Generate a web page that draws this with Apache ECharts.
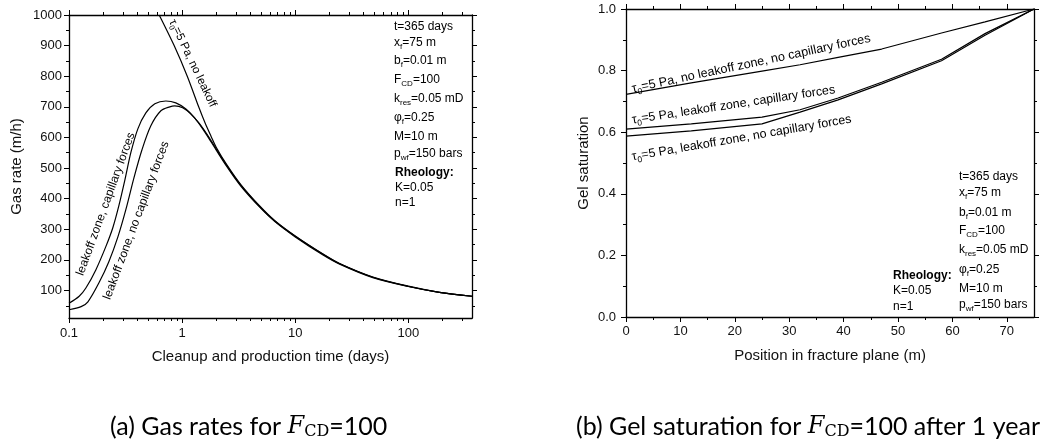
<!DOCTYPE html>
<html>
<head>
<meta charset="utf-8">
<title>Gas rates and gel saturation</title>
<script src="https://cdn.jsdelivr.net/npm/echarts@6.0.0/dist/echarts.min.js"></script>
<style>
  html, body { margin: 0; padding: 0; background: #fff; }
  #chart { width: 1047px; height: 442px; }
</style>
</head>
<body>
<div id="chart"></div>
<script>
// (a) gas rate (m/h) vs cleanup and production time (days), log x
var timeNoLeakoff = [0.627, 0.85, 1.11, 1.4, 1.6, 1.8, 2.0, 2.47, 3.3, 4.85, 6.6, 10, 17.6, 24.7, 48.5, 100, 188, 365];
var rateNoLeakoff = [1000, 900, 800, 700, 646, 604, 568, 512, 446, 376, 328, 278, 219, 188, 144, 114, 94, 81];

var timeCapillary = [0.1, 0.123, 0.141, 0.173, 0.212, 0.244, 0.276, 0.312, 0.352, 0.406, 0.478, 0.574, 0.718, 0.879, 1.08, 1.29, 1.52, 1.8, 2.47, 3.3, 4.85, 6.6, 10, 17.6, 24.7, 48.5, 100, 188, 365];
var rateCapillary = [58, 81, 108, 168, 244, 305, 377, 461, 550, 628, 680, 710, 719, 713, 693, 664, 628, 586, 506, 441, 372, 325, 275, 216, 186, 142, 113, 94, 81];

var timeNoCapillary = [0.1, 0.128, 0.147, 0.184, 0.225, 0.271, 0.318, 0.375, 0.441, 0.529, 0.649, 0.778, 0.86, 1.01, 1.19, 1.4, 1.62, 1.8, 2.47, 3.3, 4.85, 6.6, 10, 17.6, 24.7, 48.5, 100, 188, 365];
var rateNoCapillary = [37, 47, 63, 125, 194, 276, 364, 468, 559, 638, 687, 700, 703, 697, 677, 648, 616, 590, 509, 444, 374, 327, 277, 218, 187, 143, 113, 94, 81];

var timeTicks = [0.1, 1, 10, 100];
var timeMinorTicks = [0.2, 0.3, 0.4, 0.5, 0.6, 0.7, 0.8, 0.9, 2, 3, 4, 5, 6, 7, 8, 9, 20, 30, 40, 50, 60, 70, 80, 90, 200, 300];
var rateTicks = [100, 200, 300, 400, 500, 600, 700, 800, 900, 1000];
var rateMinorTicks = [50, 150, 250, 350, 450, 550, 650, 750, 850, 950];

// (b) gel saturation along the fracture after 365 days
var position = [0, 12, 25, 32, 39, 47, 58, 66, 75];
var satNoLeakoff = [0.723, 0.76, 0.798, 0.819, 0.843, 0.87, 0.922, 0.958, 1.0];
var satCapillary = [0.61, 0.627, 0.649, 0.673, 0.711, 0.762, 0.837, 0.92, 1.0];
var satNoCapillary = [0.587, 0.604, 0.627, 0.665, 0.705, 0.757, 0.832, 0.915, 1.0];

var posTicks = [0, 10, 20, 30, 40, 50, 60, 70];
var posMinorTicks = [5, 15, 25, 35, 45, 55, 65];
var satTicks = [0, 0.2, 0.4, 0.6, 0.8, 1.0];
var satMinorTicks = [0.1, 0.3, 0.5, 0.7, 0.9];

var paramLines = [
  't=365 days',
  '{n|x}{s|f}{n|=75 m}',
  '{n|b}{s|f}{n|=0.01 m}',
  '{n|F}{s|CD}{n|=100}',
  '{n|k}{s|res}{n|=0.05 mD}',
  '{n|φ}{s|f}{n|=0.25}',
  'M=10 m',
  '{n|p}{s|wf}{n|=150 bars}'
];
var rheologyLines = ['{b|Rheology:}', 'K=0.05', 'n=1'];

var FONT = 'Liberation Sans, Arial, sans-serif';
var rich = {
  n: { fontSize: 12, lineHeight: 14, fontFamily: FONT },
  s: { fontSize: 8, lineHeight: 8, padding: [8, 0, 0, 0], fontFamily: FONT },
  b: { fontSize: 12, fontWeight: 'bold', fontFamily: FONT }
};

function pairs(xs, ys) {
  return xs.map(function (x, i) { return [x, ys[i]]; });
}

function axisBase(extra) {
  var a = {
    axisLine: { show: true, onZero: false, lineStyle: { color: '#000', width: 1.3 } },
    axisTick: { show: true, inside: false, length: 5, lineStyle: { color: '#000', width: 1 } },
    axisLabel: { show: false },
    splitLine: { show: false }
  };
  return echarts.util.merge(a, extra, true);
}

var labelStyle = { show: true, color: '#111', fontSize: 13, fontFamily: FONT };
var nameStyle = { fontSize: 15, color: '#111', fontFamily: FONT };
function plain(v) { return String(v); }

var xAxes = [
  // left chart, log time axis
  axisBase({ type: 'log', logBase: 10, gridIndex: 0, position: 'bottom', min: 0.1, max: 365,
    axisTick: { customValues: timeTicks },
    axisLabel: Object.assign({}, labelStyle, { margin: 9, customValues: timeTicks, formatter: plain }),
    name: 'Cleanup and production time (days)', nameLocation: 'middle', nameGap: 31, nameTextStyle: nameStyle }),
  axisBase({ type: 'log', logBase: 10, gridIndex: 0, position: 'bottom', min: 0.1, max: 365,
    axisLine: { show: false }, axisTick: { length: 3, customValues: timeMinorTicks } }),
  axisBase({ type: 'log', logBase: 10, gridIndex: 0, position: 'top', min: 0.1, max: 365,
    axisTick: { customValues: timeTicks } }),
  axisBase({ type: 'log', logBase: 10, gridIndex: 0, position: 'top', min: 0.1, max: 365,
    axisLine: { show: false }, axisTick: { length: 3, customValues: timeMinorTicks } }),
  // right chart, position axis
  axisBase({ type: 'value', gridIndex: 1, position: 'bottom', min: 0, max: 75,
    axisTick: { customValues: posTicks },
    axisLabel: Object.assign({}, labelStyle, { margin: 8, customValues: posTicks, formatter: plain }),
    name: 'Position in fracture plane (m)', nameLocation: 'middle', nameGap: 31, nameTextStyle: nameStyle }),
  axisBase({ type: 'value', gridIndex: 1, position: 'bottom', min: 0, max: 75,
    axisLine: { show: false }, axisTick: { length: 3, customValues: posMinorTicks } }),
  axisBase({ type: 'value', gridIndex: 1, position: 'top', min: 0, max: 75,
    axisTick: { customValues: posTicks } }),
  axisBase({ type: 'value', gridIndex: 1, position: 'top', min: 0, max: 75,
    axisLine: { show: false }, axisTick: { length: 3, customValues: posMinorTicks } })
];

var yAxes = [
  axisBase({ type: 'value', gridIndex: 0, position: 'left', min: 10, max: 1000,
    axisTick: { customValues: rateTicks },
    axisLabel: Object.assign({}, labelStyle, { margin: 7, customValues: rateTicks, formatter: plain }),
    name: 'Gas rate (m/h)', nameLocation: 'middle', nameGap: 45, nameTextStyle: nameStyle }),
  axisBase({ type: 'value', gridIndex: 0, position: 'left', min: 10, max: 1000,
    axisLine: { show: false }, axisTick: { length: 3, customValues: rateMinorTicks } }),
  axisBase({ type: 'value', gridIndex: 0, position: 'right', min: 10, max: 1000,
    axisTick: { customValues: rateTicks } }),
  axisBase({ type: 'value', gridIndex: 0, position: 'right', min: 10, max: 1000,
    axisLine: { show: false }, axisTick: { length: 3, customValues: rateMinorTicks } }),
  axisBase({ type: 'value', gridIndex: 1, position: 'left', min: 0, max: 1,
    axisTick: { customValues: satTicks },
    axisLabel: Object.assign({}, labelStyle, { margin: 10, customValues: satTicks, formatter: function (v) { return v.toFixed(1); } }),
    name: 'Gel saturation', nameLocation: 'middle', nameGap: 35, nameTextStyle: nameStyle }),
  axisBase({ type: 'value', gridIndex: 1, position: 'left', min: 0, max: 1,
    axisLine: { show: false }, axisTick: { length: 3, customValues: satMinorTicks } }),
  axisBase({ type: 'value', gridIndex: 1, position: 'right', min: 0, max: 1,
    axisTick: { customValues: satTicks } }),
  axisBase({ type: 'value', gridIndex: 1, position: 'right', min: 0, max: 1,
    axisLine: { show: false }, axisTick: { length: 3, customValues: satMinorTicks } })
];

function curve(data, xi, yi, smooth) {
  return {
    type: 'line', xAxisIndex: xi, yAxisIndex: yi, data: data,
    showSymbol: false, symbol: 'none', smooth: smooth,
    lineStyle: { color: '#000', width: 1.2 }, silent: true, clip: true
  };
}

function txt(x, y, text, opt) {
  var o = opt || {};
  return {
    type: 'text', x: x, y: y, rotation: (o.rot || 0) * Math.PI / 180, silent: true,
    style: {
      text: text, rich: o.rich || rich, fill: '#000', fontFamily: FONT, fontSize: o.size || 12,
      align: 'left', verticalAlign: 'middle'
    }
  };
}

var graphics = [];
var leftY = [27, 43, 61, 80, 99, 118, 137, 154];
var rightY = [177, 193, 213, 231, 250, 270, 289, 305];
paramLines.forEach(function (t, i) {
  graphics.push(txt(394, leftY[i], t));
  graphics.push(txt(959, rightY[i], t));
});
var leftRheoY = [173, 188, 203];
var rightRheoY = [276, 291, 307];
rheologyLines.forEach(function (t, i) {
  graphics.push(txt(395, leftRheoY[i], t));
  graphics.push(txt(893, rightRheoY[i], t));
});

// curve labels
function labelRich(size) {
  return {
    l: { fontSize: size, lineHeight: size + 2, fontFamily: FONT },
    ls: { fontSize: size - 4, lineHeight: size - 4, padding: [size - 4, 0, 0, 0], fontFamily: FONT }
  };
}
var tau = '{l|τ}{ls|0}{l|=5 Pa, ';
graphics.push(txt(172, 20, tau + 'no leakoff}', { rot: -64.5, size: 11.6, rich: labelRich(11.6) }));
graphics.push(txt(80, 275, '{l|leakoff zone, capillary forces}', { rot: 70, size: 12, rich: labelRich(12) }));
graphics.push(txt(107, 299, '{l|leakoff zone, no capillary forces}', { rot: 69.5, size: 12, rich: labelRich(12) }));
graphics.push(txt(632, 89, tau + 'no leakoff zone, no capillary forces}', { rot: 12, size: 12.6, rich: labelRich(12.6) }));
graphics.push(txt(632, 120, tau + 'leakoff zone, capillary forces}', { rot: 8.5, size: 12.4, rich: labelRich(12.4) }));
graphics.push(txt(632, 157, tau + 'leakoff zone, no capillary forces}', { rot: 9.8, size: 12.4, rich: labelRich(12.4) }));

// sub-figure captions
var capRich = {
  c: { fontFamily: 'Lato, Noto Sans, sans-serif', fontSize: 25 },
  f: { fontFamily: 'DejaVu Serif', fontStyle: 'italic', fontSize: 24 },
  sub: { fontFamily: 'DejaVu Serif', fontSize: 16, lineHeight: 16, padding: [10, 0, 0, 0] }
};
graphics.push({ type: 'text', x: 110, y: 427, silent: true,
  style: { text: '{c|(a) Gas rates for }{f|F}{sub|CD}{c|=100}', rich: capRich, align: 'left', verticalAlign: 'middle', fill: '#000' } });
graphics.push({ type: 'text', x: 576, y: 427, silent: true,
  style: { text: '{c|(b) Gel saturation for }{f|F}{sub|CD}{c|=100 after 1 year}', rich: capRich, align: 'left', verticalAlign: 'middle', fill: '#000' } });

var chart = echarts.init(document.getElementById('chart'), null, { renderer: 'canvas' });
chart.setOption({
  animation: false,
  backgroundColor: '#fff',
  grid: [
    { left: 69, top: 15, width: 403, height: 303 },
    { left: 626, top: 9, width: 408, height: 308 }
  ],
  xAxis: xAxes,
  yAxis: yAxes,
  series: [
    curve(pairs(timeNoLeakoff, rateNoLeakoff), 0, 0, 0.3),
    curve(pairs(timeCapillary, rateCapillary), 0, 0, 0.3),
    curve(pairs(timeNoCapillary, rateNoCapillary), 0, 0, 0.3),
    curve(pairs(position, satNoLeakoff), 4, 4, false),
    curve(pairs(position, satCapillary), 4, 4, false),
    curve(pairs(position, satNoCapillary), 4, 4, false)
  ],
  graphic: graphics
});
window.addEventListener('resize', function () { chart.resize(); });
</script>
</body>
</html>
